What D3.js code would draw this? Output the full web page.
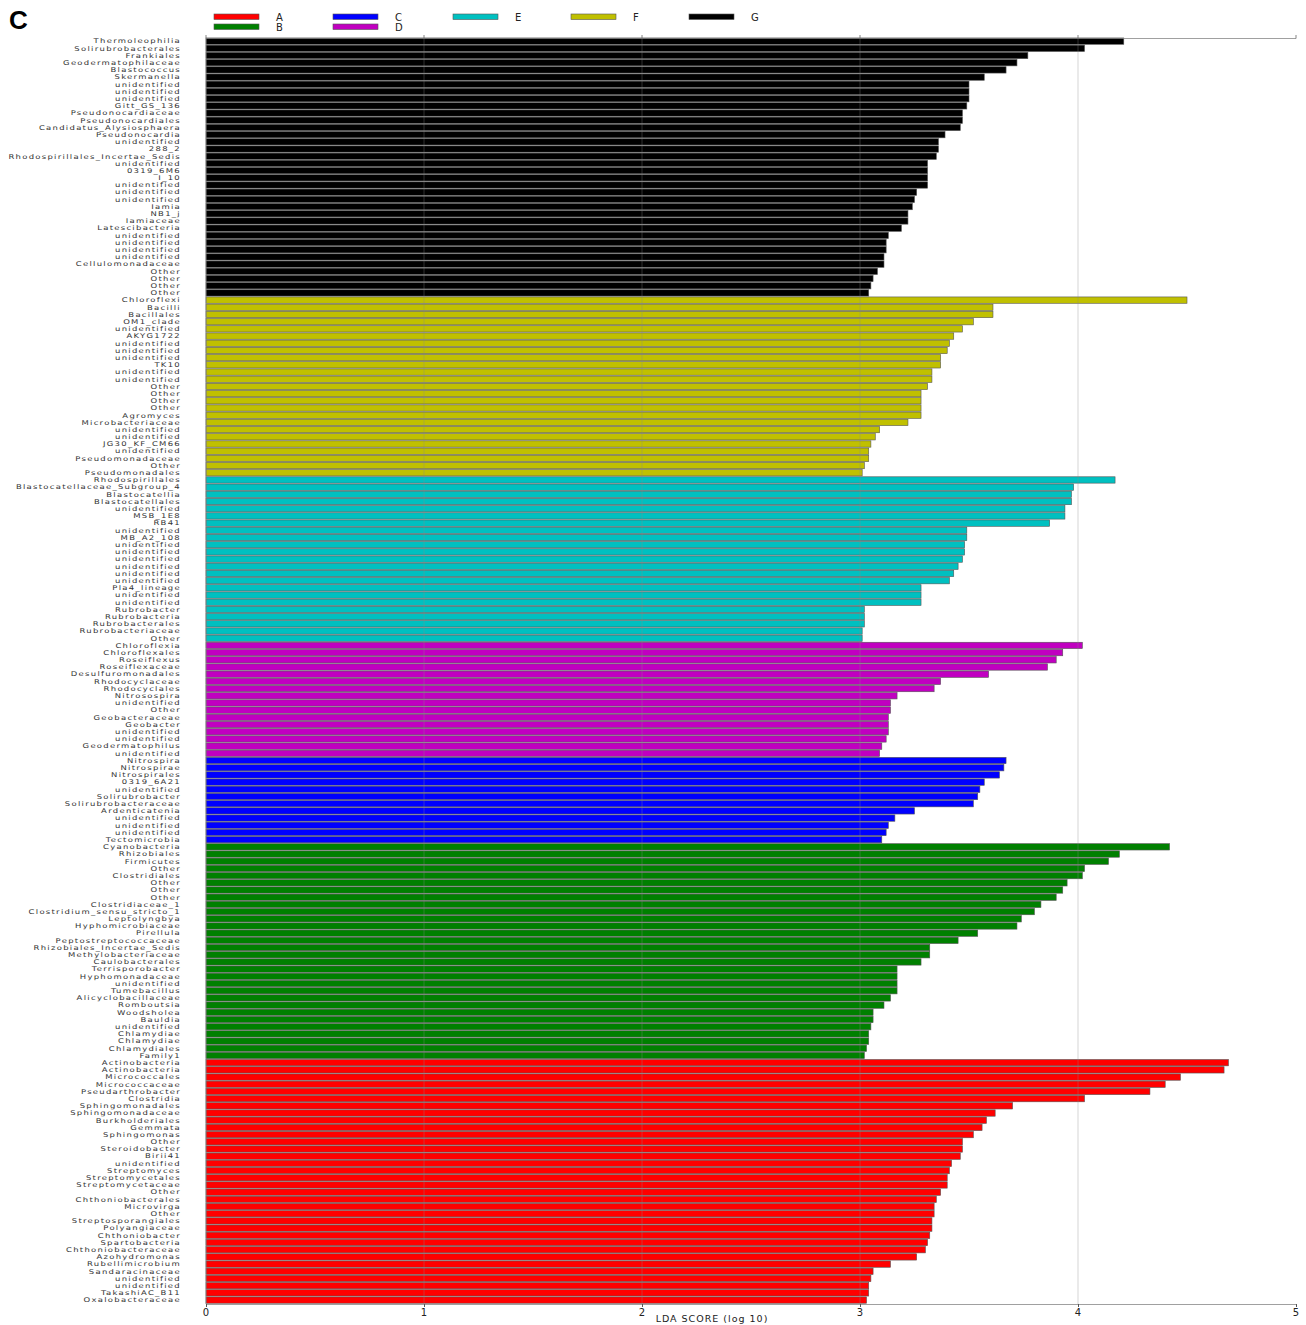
<!DOCTYPE html>
<html><head><meta charset="utf-8">
<script src="https://cdn.jsdelivr.net/npm/d3@7"></script>
<style>body{margin:0;background:#fff;} svg{display:block;}</style>
</head><body>
<script>
const groupNames = ["A","B","C","D","E","F","G"];
const groupColors = ["#ff0000","#008000","#0000ff","#c000c0","#00c0c0","#c0c000","#000000"];

const gLabels = ["Thermoleophilia","Solirubrobacterales","Frankiales","Geodermatophilaceae","Blastococcus","Skermanella","unidentified","unidentified","unidentified","Gitt_GS_136","Pseudonocardiaceae","Pseudonocardiales","Candidatus_Alysiosphaera","Pseudonocardia","unidentified","288_2","Rhodospirillales_Incertae_Sedis","unidentified","0319_6M6","I_10","unidentified","unidentified","unidentified","Iamia","NB1_j","Iamiaceae","Latescibacteria","unidentified","unidentified","unidentified","unidentified","Cellulomonadaceae","Other","Other","Other","Other"];
const gValues = [4.21,4.03,3.77,3.72,3.67,3.57,3.50,3.50,3.50,3.49,3.47,3.47,3.46,3.39,3.36,3.36,3.35,3.31,3.31,3.31,3.31,3.26,3.25,3.24,3.22,3.22,3.19,3.13,3.12,3.12,3.11,3.11,3.08,3.06,3.05,3.04];

const fLabels = ["Chloroflexi","Bacilli","Bacillales","OM1_clade","unidentified","AKYG1722","unidentified","unidentified","unidentified","TK10","unidentified","unidentified","Other","Other","Other","Other","Agromyces","Microbacteriaceae","unidentified","unidentified","JG30_KF_CM66","unidentified","Pseudomonadaceae","Other","Pseudomonadales"];
const fValues = [4.50,3.61,3.61,3.52,3.47,3.43,3.41,3.40,3.37,3.37,3.33,3.33,3.31,3.28,3.28,3.28,3.28,3.22,3.09,3.07,3.05,3.04,3.04,3.02,3.01];

const eLabels = ["Rhodospirillales","Blastocatellaceae_Subgroup_4","Blastocatellia","Blastocatellales","unidentified","MSB_1E8","RB41","unidentified","MB_A2_108","unidentified","unidentified","unidentified","unidentified","unidentified","unidentified","Pla4_lineage","unidentified","unidentified","Rubrobacter","Rubrobacteria","Rubrobacterales","Rubrobacteriaceae","Other"];
const eValues = [4.17,3.98,3.97,3.97,3.94,3.94,3.87,3.49,3.49,3.48,3.48,3.47,3.45,3.43,3.41,3.28,3.28,3.28,3.02,3.02,3.02,3.01,3.01];

const dLabels = ["Chloroflexia","Chloroflexales","Roseiflexus","Roseiflexaceae","Desulfuromonadales","Rhodocyclaceae","Rhodocyclales","Nitrosospira","unidentified","Other","Geobacteraceae","Geobacter","unidentified","unidentified","Geodermatophilus","unidentified"];
const dValues = [4.02,3.93,3.90,3.86,3.59,3.37,3.34,3.17,3.14,3.14,3.13,3.13,3.13,3.12,3.10,3.09];

const cLabels = ["Nitrospira","Nitrospirae","Nitrospirales","0319_6A21","unidentified","Solirubrobacter","Solirubrobacteraceae","Ardenticatenia","unidentified","unidentified","unidentified","Tectomicrobia"];
const cValues = [3.67,3.66,3.64,3.57,3.55,3.54,3.52,3.25,3.16,3.13,3.12,3.10];

const bLabels = ["Cyanobacteria","Rhizobiales","Firmicutes","Other","Clostridiales","Other","Other","Other","Clostridiaceae_1","Clostridium_sensu_stricto_1","Leptolyngbya","Hyphomicrobiaceae","Pirellula","Peptostreptococcaceae","Rhizobiales_Incertae_Sedis","Methylobacteriaceae","Caulobacterales","Terrisporobacter","Hyphomonadaceae","unidentified","Tumebacillus","Alicyclobacillaceae","Romboutsia","Woodsholea","Bauldia","unidentified","Chlamydiae","Chlamydiae","Chlamydiales","Family1"];
const bValues = [4.42,4.19,4.14,4.03,4.02,3.95,3.93,3.90,3.83,3.80,3.74,3.72,3.54,3.45,3.32,3.32,3.28,3.17,3.17,3.17,3.17,3.14,3.11,3.06,3.06,3.05,3.04,3.04,3.03,3.02];

const aLabels = ["Actinobacteria","Actinobacteria","Micrococcales","Micrococcaceae","Pseudarthrobacter","Clostridia","Sphingomonadales","Sphingomonadaceae","Burkholderiales","Gemmata","Sphingomonas","Other","Steroidobacter","Birii41","unidentified","Streptomyces","Streptomycetales","Streptomycetaceae","Other","Chthoniobacterales","Microvirga","Other","Streptosporangiales","Polyangiaceae","Chthoniobacter","Spartobacteria","Chthoniobacteraceae","Azohydromonas","Rubellimicrobium","Sandaracinaceae","unidentified","unidentified","TakashiAC_B11","Oxalobacteraceae"];
const aValues = [4.69,4.67,4.47,4.40,4.33,4.03,3.70,3.62,3.58,3.56,3.52,3.47,3.47,3.46,3.42,3.41,3.40,3.40,3.37,3.35,3.34,3.34,3.33,3.33,3.32,3.31,3.30,3.26,3.14,3.06,3.05,3.04,3.04,3.03];

const xTicks = [0,1,2,3,4,5];
const xTitle = "LDA SCORE (log 10)";
const panelLetter = "C";

// top-to-bottom order of groups
const stack = [
  ["G", gLabels, gValues], ["F", fLabels, fValues], ["E", eLabels, eValues],
  ["D", dLabels, dValues], ["C", cLabels, cValues], ["B", bLabels, bValues],
  ["A", aLabels, aValues]
];
const rows = [];
stack.forEach(([g, labs, vals]) => labs.forEach((l, i) => rows.push({id: rows.length, group: g, label: l, value: vals[i]})));

const W = 1306, H = 1325;
const color = d3.scaleOrdinal(groupNames, groupColors);
const x = d3.scaleLinear().domain([0,5]).range([206,1296]);
const y = d3.scaleBand().domain(rows.map(r => r.id)).range([37.6,1303.6]).paddingInner(0.12).paddingOuter(0.05);

const svg = d3.select("body").append("svg").attr("width", W).attr("height", H);

svg.append("text").attr("x", 9).attr("y", 29).text(panelLetter)
  .attr("font-family", "Liberation Sans, Arial, sans-serif").attr("font-weight", "bold")
  .attr("font-size", 26).attr("fill", "#000");

// bars
svg.append("g").selectAll("rect").data(rows).join("rect")
  .attr("x", x(0)).attr("y", d => y(d.id))
  .attr("width", d => x(d.value) - x(0)).attr("height", y.bandwidth())
  .attr("fill", d => color(d.group)).attr("stroke", "#555").attr("stroke-width", 0.6);

// grid lines on top
svg.append("g").selectAll("line").data(xTicks.slice(1, 5)).join("line")
  .attr("x1", d => x(d)).attr("x2", d => x(d)).attr("y1", 38.5).attr("y2", 1304)
  .attr("stroke", "#888").attr("stroke-width", 0.7).attr("stroke-dasharray", "1,1");

// labels (wide, short glyphs as in the reference)
svg.append("g").selectAll("g").data(rows).join("g")
  .attr("transform", d => `translate(181,${y(d.id) + y.bandwidth() / 2 + 2.3}) scale(1.3,1)`)
  .append("text").attr("x", 0).attr("y", 0)
  .attr("text-anchor", "end").attr("font-family", "DejaVu Sans, sans-serif")
  .attr("font-size", 6.5).attr("letter-spacing", 1.0).attr("fill", "#333")
  .text(d => d.label);

// spines
svg.append("line").attr("x1", 206).attr("x2", 1296).attr("y1", 38.5).attr("y2", 38.5).attr("stroke", "#888").attr("stroke-width", 0.8);
svg.append("line").attr("x1", 206).attr("x2", 206).attr("y1", 38.5).attr("y2", 1304).attr("stroke", "#888").attr("stroke-width", 0.8);
// top ticks
svg.append("g").selectAll("line").data(xTicks).join("line")
  .attr("x1", d => x(d)).attr("x2", d => x(d)).attr("y1", 38.5).attr("y2", 35)
  .attr("stroke", "#666").attr("stroke-width", 0.8);

// bottom axis
const ax = svg.append("g").attr("transform", "translate(0,1304)")
  .call(d3.axisBottom(x).tickValues(xTicks).tickFormat(d3.format("d")).tickSize(3).tickPadding(2));
ax.select(".domain").attr("stroke", "#888").attr("stroke-width", 0.8);
ax.selectAll(".tick line").attr("stroke", "#555");
ax.selectAll("text").attr("font-family", "DejaVu Sans, sans-serif").attr("font-size", 10).attr("letter-spacing", 1).attr("fill", "#222");

svg.append("text").attr("x", 712).attr("y", 1322).attr("text-anchor", "middle")
  .attr("font-family", "DejaVu Sans, sans-serif").attr("font-size", 9.5).attr("letter-spacing", 1)
  .attr("fill", "#222").text(xTitle);

// legend
const legPos = {A:[214,17], B:[214,27], C:[333,17], D:[333,27], E:[453,17], F:[571,17], G:[689,17]};
const leg = svg.append("g").selectAll("g").data(groupNames).join("g")
  .attr("transform", d => `translate(${legPos[d][0]},${legPos[d][1]})`);
leg.append("rect").attr("x", 0).attr("y", -3).attr("width", 45).attr("height", 5.5)
  .attr("fill", d => color(d)).attr("stroke", "#555").attr("stroke-width", 0.6);
leg.append("text").attr("x", 62).attr("y", 3.5).attr("font-family", "DejaVu Sans, sans-serif")
  .attr("font-size", 10).attr("letter-spacing", 1.5).attr("fill", "#222").text(d => d);
</script>
</body></html>
